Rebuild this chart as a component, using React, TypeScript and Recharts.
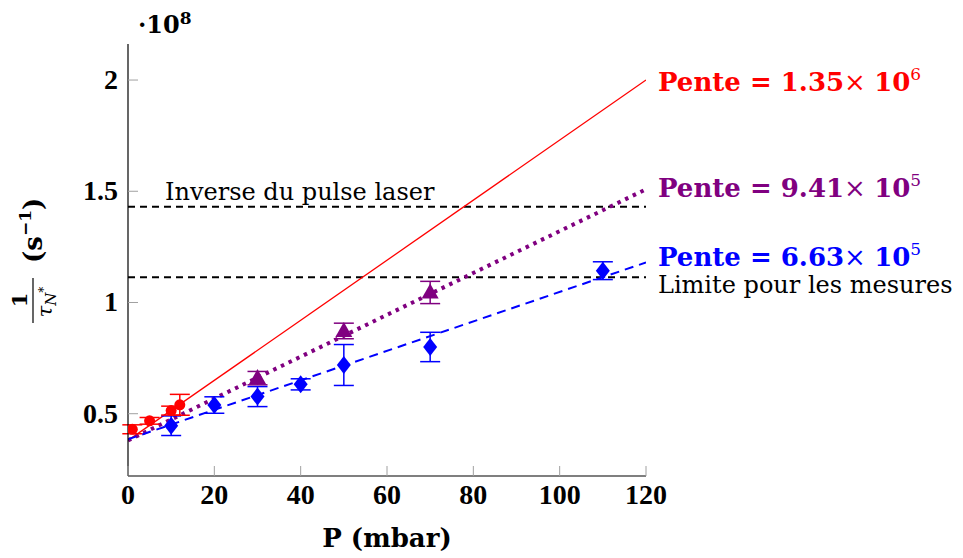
import React from 'react';
import {
  ComposedChart,
  Line,
  Scatter,
  ErrorBar,
  XAxis,
  YAxis,
  ReferenceLine,
  ReferenceDot,
} from 'recharts';

// Axis ticks
const xTicks = [0, 20, 40, 60, 80, 100, 120];
const yTicks = [0.5, 1, 1.5, 2];

// Measured points (1/tau in units of 1e8 s^-1)
const redP = [1, 5, 10, 12];
const redVal = [0.43, 0.468, 0.514, 0.54];
const redErr = [0.02, 0.015, 0.02, 0.047];

const blueP = [10, 20, 30, 40, 50, 70, 110];
const blueVal = [0.446, 0.539, 0.577, 0.632, 0.719, 0.8, 1.143];
const blueErr = [0.044, 0.037, 0.045, 0.025, 0.092, 0.066, 0.04];

const purpleP = [30, 50, 70];
const purpleVal = [0.66, 0.872, 1.045];
const purpleErr = [0.03, 0.035, 0.05];

// Linear fits, end points at P = 0 and P = 120
const fitP = [0, 120];
const redFit = [0.38, 2.0];
const purpleFit = [0.38, 1.509];
const blueFit = [0.385, 1.18];

// Fit slope labels
const redSlope = ['1.35', '6'];
const purpleSlope = ['9.41', '5'];
const blueSlope = ['6.63', '5'];

// Horizontal limits
const pulseLimit = 1.43;
const measureLimit = 1.113;

const RED = '#ff0000';
const BLUE = '#0000ff';
const PURPLE = '#800080';
const TICK = '#a0a0a0';
const SERIF = '"DejaVu Serif", serif';
const NUM = '"Liberation Serif", serif';

const toPoints = (xs: number[], ys: number[], errs?: number[]) =>
  xs.map((x, i) => ({ x, y: ys[i], err: errs ? errs[i] : 0 }));

const redData = toPoints(redP, redVal, redErr);
const blueData = toPoints(blueP, blueVal, blueErr);
const purpleData = toPoints(purpleP, purpleVal, purpleErr);
const redFitData = toPoints(fitP, redFit);
const purpleFitData = toPoints(fitP, purpleFit);
const blueFitData = toPoints(fitP, blueFit);

const fmt = (v: number) => String(v);

const LeftTick = (props: any) => {
  const { x, y, payload } = props;
  return (
    <g>
      <line x1={x} y1={y} x2={x + 10} y2={y} stroke={TICK} strokeWidth={1} />
      <text x={x - 10} y={y + 9} textAnchor="end" fontFamily={NUM} fontWeight="bold" fontSize={28} fill="#000">
        {fmt(payload.value)}
      </text>
    </g>
  );
};

const RightTick = (props: any) => {
  const { x, y } = props;
  return <line x1={x} y1={y} x2={x - 10} y2={y} stroke={TICK} strokeWidth={1} />;
};

const BottomTick = (props: any) => {
  const { x, y, payload } = props;
  return (
    <g>
      <line x1={x} y1={y} x2={x} y2={y - 10} stroke={TICK} strokeWidth={1} />
      <text x={x} y={y + 28} textAnchor="middle" fontFamily={NUM} fontWeight="bold" fontSize={28} fill="#000">
        {fmt(payload.value)}
      </text>
    </g>
  );
};

const TopTick = (props: any) => {
  const { x, y } = props;
  return <line x1={x} y1={y} x2={x} y2={y + 10} stroke={TICK} strokeWidth={1} />;
};

const Circle = (props: any) => {
  const { cx, cy } = props;
  return <circle cx={cx} cy={cy} r={5.5} fill={RED} />;
};

const Diamond = (props: any) => {
  const { cx, cy } = props;
  return <path d={`M${cx},${cy - 9}L${cx + 7},${cy}L${cx},${cy + 9}L${cx - 7},${cy}Z`} fill={BLUE} />;
};

const Triangle = (props: any) => {
  const { cx, cy } = props;
  return <path d={`M${cx},${cy - 9}L${cx + 8.5},${cy + 6}L${cx - 8.5},${cy + 6}Z`} fill={PURPLE} />;
};

const slopeLabel = (color: string, parts: string[], dy: number) => (props: any) => {
  const { viewBox } = props;
  const x = viewBox.x + viewBox.width / 2 + 12;
  const y = viewBox.y + viewBox.height / 2 + dy;
  return (
    <text x={x} y={y} fontFamily={SERIF} fontSize={26} fill={color}>
      <tspan fontWeight="bold">Pente = {parts[0]}</tspan>
      <tspan fontWeight="normal">× </tspan>
      <tspan fontWeight="bold">10</tspan>
      <tspan fontWeight="normal" fontSize={17} dy={-11}>{parts[1]}</tspan>
    </text>
  );
};

const pulseLabel = (props: any) => {
  const { viewBox } = props;
  return (
    <text x={viewBox.x + 37} y={viewBox.y - 7} fontFamily={SERIF} fontSize={24} fill="#000">
      Inverse du pulse laser
    </text>
  );
};

const measureLabel = (props: any) => {
  const { viewBox } = props;
  return (
    <text x={viewBox.x + viewBox.width + 12} y={viewBox.y + 16} fontFamily={SERIF} fontSize={24} fill="#000">
      Limite pour les mesures
    </text>
  );
};

export default function App() {
  return (
    <div style={{ width: 955, height: 550 }}>
      <ComposedChart
        width={955}
        height={550}
        margin={{ top: 36, right: 317, bottom: 42, left: 0 }}
      >
        <XAxis
          xAxisId="b"
          dataKey="x"
          type="number"
          domain={[0, 120]}
          ticks={xTicks}
          allowDataOverflow
          height={40}
          tickSize={0}
          tickMargin={0}
          tickLine={false}
          axisLine={{ stroke: '#000', strokeWidth: 1.2 }}
          tick={<BottomTick />}
        />
        <XAxis
          xAxisId="t"
          orientation="top"
          dataKey="x"
          type="number"
          domain={[0, 120]}
          ticks={xTicks}
          height={0}
          tickSize={0}
          tickMargin={0}
          tickLine={false}
          axisLine={{ stroke: '#000', strokeWidth: 1.2 }}
          tick={<TopTick />}
        />
        <YAxis
          yAxisId="l"
          dataKey="y"
          type="number"
          domain={[0.22, 2.162]}
          ticks={yTicks}
          allowDataOverflow
          width={120}
          tickSize={0}
          tickMargin={0}
          tickLine={false}
          axisLine={{ stroke: '#000', strokeWidth: 1.2 }}
          tick={<LeftTick />}
        />
        <YAxis
          yAxisId="r"
          orientation="right"
          dataKey="y"
          type="number"
          domain={[0.22, 2.162]}
          ticks={yTicks}
          allowDataOverflow
          width={0}
          tickSize={0}
          tickMargin={0}
          tickLine={false}
          axisLine={{ stroke: '#000', strokeWidth: 1.2 }}
          tick={<RightTick />}
        />

        <ReferenceLine
          xAxisId="b"
          yAxisId="l"
          y={pulseLimit}
          stroke="#000"
          strokeWidth={2}
          strokeDasharray="7 5"
          label={pulseLabel}
        />
        <ReferenceLine
          xAxisId="b"
          yAxisId="l"
          y={measureLimit}
          stroke="#000"
          strokeWidth={2}
          strokeDasharray="7 5"
          label={measureLabel}
        />

        <Line
          xAxisId="b"
          yAxisId="l"
          data={redFitData}
          dataKey="y"
          stroke={RED}
          strokeWidth={1.3}
          dot={false}
          isAnimationActive={false}
        />
        <Line
          xAxisId="b"
          yAxisId="l"
          data={purpleFitData}
          dataKey="y"
          stroke={PURPLE}
          strokeWidth={4}
          strokeDasharray="3.5 5"
          dot={false}
          isAnimationActive={false}
        />
        <Line
          xAxisId="b"
          yAxisId="l"
          data={blueFitData}
          dataKey="y"
          stroke={BLUE}
          strokeWidth={2}
          strokeDasharray="9 6"
          dot={false}
          isAnimationActive={false}
        />

        <Scatter xAxisId="b" yAxisId="l" data={blueData} dataKey="y" shape={<Diamond />} isAnimationActive={false}>
          <ErrorBar dataKey="err" direction="y" width={10} stroke={BLUE} strokeWidth={1.5} />
        </Scatter>
        <Scatter xAxisId="b" yAxisId="l" data={purpleData} dataKey="y" shape={<Triangle />} isAnimationActive={false}>
          <ErrorBar dataKey="err" direction="y" width={10} stroke={PURPLE} strokeWidth={1.5} />
        </Scatter>
        <Scatter xAxisId="b" yAxisId="l" data={redData} dataKey="y" shape={<Circle />} isAnimationActive={false}>
          <ErrorBar dataKey="err" direction="y" width={10} stroke={RED} strokeWidth={1.5} />
        </Scatter>

        <ReferenceDot xAxisId="b" yAxisId="l" x={fitP[1]} y={redFit[1]} r={0} stroke="none" label={slopeLabel(RED, redSlope, 11)} />
        <ReferenceDot xAxisId="b" yAxisId="l" x={fitP[1]} y={purpleFit[1]} r={0} stroke="none" label={slopeLabel(PURPLE, purpleSlope, 8)} />
        <ReferenceDot xAxisId="b" yAxisId="l" x={fitP[1]} y={blueFit[1]} r={0} stroke="none" label={slopeLabel(BLUE, blueSlope, 4)} />

        {/* multiplier above the y axis */}
        <text x={130} y={25} fontFamily={SERIF} fontWeight="bold" fontSize={24} fill="#000">
          ·10<tspan fontSize={17} dy={-9}>8</tspan>
        </text>

        {/* x axis title */}
        <text x={379} y={539} textAnchor="middle" fontFamily={SERIF} fontWeight="bold" fontSize={26} fill="#000">
          P (mbar)
        </text>

        {/* y axis title: 1/tau_N* (s^-1), rotated */}
        <g transform="translate(25,254) rotate(-90)">
          <text x={-38} y={-6} textAnchor="middle" fontFamily={SERIF} fontWeight="bold" fontSize={21} fill="#000">1</text>
          <line x1={-61} y1={0} x2={-16} y2={0} stroke="#000" strokeWidth={1.2} />
          <text x={-40} y={19} textAnchor="middle" fontFamily={SERIF} fontStyle="italic" fontSize={21} fill="#000">
            τ<tspan fontSize={15} dy={4}>N</tspan><tspan fontSize={12} dy={-8}>*</tspan>
          </text>
          <text x={-1} y={9} fontFamily={SERIF} fontWeight="bold" fontSize={26} fill="#000">
            (s<tspan fontSize={17} dy={-11}>−1</tspan><tspan dy={11}>)</tspan>
          </text>
        </g>
      </ComposedChart>
    </div>
  );
}
